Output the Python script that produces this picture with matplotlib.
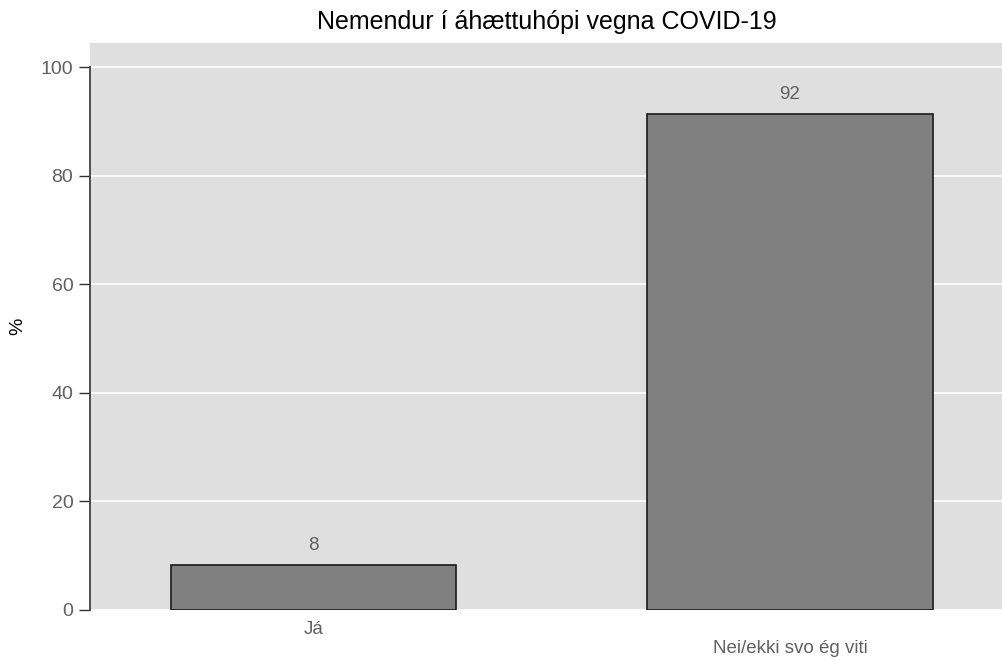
import matplotlib
matplotlib.use("Agg")
import matplotlib.pyplot as plt

categories = ["Já", "Nei/ekki svo ég viti"]
values = [8.3, 91.5]
labels = ["8", "92"]
yticks = [0, 20, 40, 60, 80, 100]

plt.rcParams['font.family'] = ['Liberation Sans', 'DejaVu Sans']

fig = plt.figure(figsize=(10.03, 6.61), dpi=100)
ax = fig.add_axes([90/1003, 1-609.5/661, 1-90/1003, (609.5-42.5)/661])
ax.set_facecolor('#DFDFDF')
x = list(range(len(categories)))
ax.bar(x, values, width=0.6, color='#808080', edgecolor='#1a1a1a', linewidth=1.2, zorder=3)
for xi, v, lab in zip(x, values, labels):
    ax.text(xi, v + 2.0, lab, ha='center', va='bottom', fontsize=13.5, color='#606060', zorder=4)

ax.set_xlim(-0.469, 1.447)
ax.set_ylim(0, 104.6)
ax.set_yticks(yticks)
ax.set_yticklabels([str(t) for t in yticks], fontsize=14, color='#606060')
ax.yaxis.grid(True, color='white', linewidth=1.2, zorder=0)
ax.xaxis.grid(False)
ax.set_axisbelow(True)
ax.tick_params(axis='y', length=8, width=1, color='#333333', pad=4)
ax.tick_params(axis='x', length=0)
ax.set_xticks(x)
ax.set_xticklabels(categories, fontsize=13.5, color='#606060')
for i, t in enumerate(ax.get_xticklabels()):
    t.set_y(-0.012 if i == 0 else -0.046)
for s in ['top', 'right', 'bottom']:
    ax.spines[s].set_visible(False)
ax.spines['left'].set_bounds(0, 100)
ax.spines['left'].set_color('#333333')
ax.spines['left'].set_linewidth(1.2)
fig.text(18/1003, 1-326/661, '%', rotation=90, ha='center', va='center', fontsize=14, color='black')
fig.text(0.545, 1-22/661, 'Nemendur í áhættuhópi vegna COVID-19', ha='center', va='center', fontsize=18, color='black')

fig.savefig('out.png', dpi=100)
